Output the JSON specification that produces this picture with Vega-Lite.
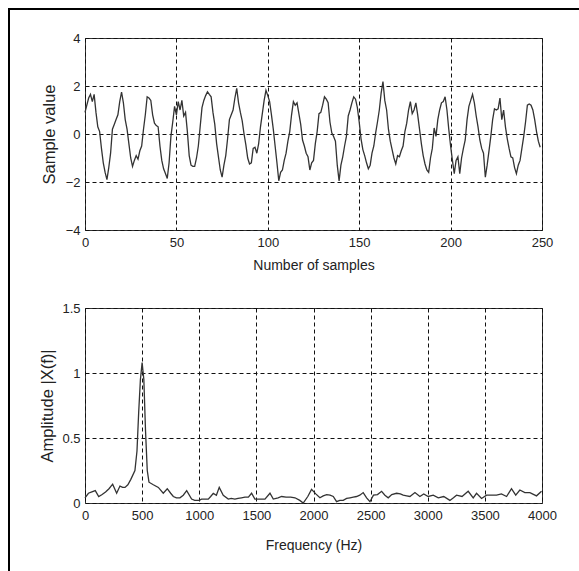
{
  "$schema": "https://vega.github.io/schema/vega-lite/v6.json",
  "padding": {"left": 8, "top": 8, "right": 0, "bottom": 0},
  "background": "white",
  "datasets": {
    "frame": [{"k": "frame"}],
    "signal": [
      {"n":0,"v":0.9},{"n":1,"v":1.2},{"n":2,"v":1.5},{"n":3,"v":1.65},{"n":4,"v":1.35},{"n":5,"v":1.65},{"n":6,"v":0.9},{"n":7,"v":0.3},{"n":8,"v":0.1},{"n":9,"v":-0.6},
      {"n":10,"v":-1.2},{"n":11,"v":-1.6},{"n":12,"v":-1.9},{"n":13,"v":-1.4},{"n":14,"v":-0.8},{"n":15,"v":0.2},{"n":16,"v":0.4},{"n":17,"v":0.6},{"n":18,"v":0.8},{"n":19,"v":1.35},
      {"n":20,"v":1.75},{"n":21,"v":1.3},{"n":22,"v":0.6},{"n":23,"v":0.2},{"n":24,"v":-0.4},{"n":25,"v":-1.0},{"n":26,"v":-1.35},{"n":27,"v":-1.1},{"n":28,"v":-0.9},{"n":29,"v":-1.05},
      {"n":30,"v":-0.7},{"n":31,"v":-0.5},{"n":32,"v":0.2},{"n":33,"v":0.8},{"n":34,"v":1.55},{"n":35,"v":1.5},{"n":36,"v":1.4},{"n":37,"v":0.8},{"n":38,"v":0.45},{"n":39,"v":0.35},
      {"n":40,"v":0.3},{"n":41,"v":-0.5},{"n":42,"v":-1.1},{"n":43,"v":-1.45},{"n":44,"v":-1.65},{"n":45,"v":-1.85},{"n":46,"v":-1.2},{"n":47,"v":-0.1},{"n":48,"v":0.5},{"n":49,"v":1.15},
      {"n":50,"v":0.8},{"n":51,"v":1.35},{"n":52,"v":1.0},{"n":53,"v":1.4},{"n":54,"v":0.75},{"n":55,"v":0.9},{"n":56,"v":0.1},{"n":57,"v":-0.9},{"n":58,"v":-1.3},{"n":59,"v":-1.35},
      {"n":60,"v":-1.35},{"n":61,"v":-1.0},{"n":62,"v":-0.5},{"n":63,"v":0.3},{"n":64,"v":1.1},{"n":65,"v":1.4},{"n":66,"v":1.6},{"n":67,"v":1.76},{"n":68,"v":1.65},{"n":69,"v":1.55},
      {"n":70,"v":0.9},{"n":71,"v":0.4},{"n":72,"v":-0.4},{"n":73,"v":-0.95},{"n":74,"v":-1.5},{"n":75,"v":-1.8},{"n":76,"v":-1.3},{"n":77,"v":-0.9},{"n":78,"v":-0.2},{"n":79,"v":0.6},
      {"n":80,"v":0.8},{"n":81,"v":1.0},{"n":82,"v":1.5},{"n":83,"v":1.9},{"n":84,"v":1.3},{"n":85,"v":0.9},{"n":86,"v":0.55},{"n":87,"v":0.0},{"n":88,"v":-0.45},{"n":89,"v":-1.0},
      {"n":90,"v":-1.25},{"n":91,"v":-1.2},{"n":92,"v":-0.6},{"n":93,"v":-0.55},{"n":94,"v":-0.8},{"n":95,"v":-0.4},{"n":96,"v":0.3},{"n":97,"v":0.85},{"n":98,"v":1.4},{"n":99,"v":1.82},
      {"n":100,"v":1.6},{"n":101,"v":1.35},{"n":102,"v":0.8},{"n":103,"v":0.2},{"n":104,"v":-0.5},{"n":105,"v":-1.2},{"n":106,"v":-1.95},{"n":107,"v":-1.6},{"n":108,"v":-1.5},{"n":109,"v":-1.1},
      {"n":110,"v":-0.8},{"n":111,"v":-0.3},{"n":112,"v":0.1},{"n":113,"v":0.8},{"n":114,"v":1.35},{"n":115,"v":1.2},{"n":116,"v":1.3},{"n":117,"v":0.85},{"n":118,"v":0.4},{"n":119,"v":-0.25},
      {"n":120,"v":-0.5},{"n":121,"v":-0.8},{"n":122,"v":-0.95},{"n":123,"v":-1.5},{"n":124,"v":-1.2},{"n":125,"v":-1.1},{"n":126,"v":-0.4},{"n":127,"v":0.1},{"n":128,"v":0.85},{"n":129,"v":0.9},
      {"n":130,"v":1.2},{"n":131,"v":1.55},{"n":132,"v":1.45},{"n":133,"v":1.3},{"n":134,"v":0.5},{"n":135,"v":0.05},{"n":136,"v":-0.1},{"n":137,"v":-0.3},{"n":138,"v":-1.3},{"n":139,"v":-1.95},
      {"n":140,"v":-1.3},{"n":141,"v":-0.95},{"n":142,"v":-0.5},{"n":143,"v":-0.1},{"n":144,"v":0.75},{"n":145,"v":1.0},{"n":146,"v":1.3},{"n":147,"v":1.55},{"n":148,"v":1.45},{"n":149,"v":1.1},
      {"n":150,"v":0.5},{"n":151,"v":-0.2},{"n":152,"v":-0.65},{"n":153,"v":-0.9},{"n":154,"v":-1.2},{"n":155,"v":-1.45},{"n":156,"v":-1.3},{"n":157,"v":-0.8},{"n":158,"v":-0.5},{"n":159,"v":0.05},
      {"n":160,"v":0.5},{"n":161,"v":1.0},{"n":162,"v":1.7},{"n":163,"v":2.18},{"n":164,"v":1.4},{"n":165,"v":1.0},{"n":166,"v":0.2},{"n":167,"v":-0.3},{"n":168,"v":-0.65},{"n":169,"v":-1.0},
      {"n":170,"v":-1.25},{"n":171,"v":-0.9},{"n":172,"v":-0.95},{"n":173,"v":-0.7},{"n":174,"v":-0.5},{"n":175,"v":0.1},{"n":176,"v":0.45},{"n":177,"v":1.0},{"n":178,"v":1.35},{"n":179,"v":0.85},
      {"n":180,"v":1.0},{"n":181,"v":1.3},{"n":182,"v":0.8},{"n":183,"v":0.2},{"n":184,"v":-0.4},{"n":185,"v":-0.9},{"n":186,"v":-1.25},{"n":187,"v":-1.5},{"n":188,"v":-1.6},{"n":189,"v":-1.0},
      {"n":190,"v":-0.6},{"n":191,"v":0.25},{"n":192,"v":-0.1},{"n":193,"v":0.6},{"n":194,"v":1.0},{"n":195,"v":1.3},{"n":196,"v":1.35},{"n":197,"v":1.55},{"n":198,"v":1.0},{"n":199,"v":0.2},
      {"n":200,"v":-0.5},{"n":201,"v":-1.1},{"n":202,"v":-1.65},{"n":203,"v":-1.1},{"n":204,"v":-0.95},{"n":205,"v":-1.65},{"n":206,"v":-1.0},{"n":207,"v":-0.6},{"n":208,"v":-0.25},{"n":209,"v":0.6},
      {"n":210,"v":1.15},{"n":211,"v":1.4},{"n":212,"v":1.65},{"n":213,"v":1.3},{"n":214,"v":0.75},{"n":215,"v":0.3},{"n":216,"v":-0.25},{"n":217,"v":-0.6},{"n":218,"v":-0.8},{"n":219,"v":-1.8},
      {"n":220,"v":-1.3},{"n":221,"v":-0.7},{"n":222,"v":-0.1},{"n":223,"v":0.6},{"n":224,"v":1.05},{"n":225,"v":1.0},{"n":226,"v":1.05},{"n":227,"v":1.5},{"n":228,"v":0.6},{"n":229,"v":1.0},
      {"n":230,"v":0.3},{"n":231,"v":-0.2},{"n":232,"v":-0.6},{"n":233,"v":-0.95},{"n":234,"v":-1.0},{"n":235,"v":-1.4},{"n":236,"v":-1.65},{"n":237,"v":-1.3},{"n":238,"v":-1.1},{"n":239,"v":-0.6},
      {"n":240,"v":-0.1},{"n":241,"v":0.5},{"n":242,"v":1.2},{"n":243,"v":1.25},{"n":244,"v":1.2},{"n":245,"v":1.0},{"n":246,"v":0.6},{"n":247,"v":0.1},{"n":248,"v":-0.3},{"n":249,"v":-0.55}
    ],
    "spectrum": [
      {"f":0,"a":0.04},{"f":30,"a":0.075},{"f":60,"a":0.085},{"f":90,"a":0.095},{"f":120,"a":0.05},{"f":150,"a":0.065},{"f":180,"a":0.085},{"f":210,"a":0.11},{"f":242,"a":0.145},{"f":277,"a":0.075},
      {"f":306,"a":0.13},{"f":330,"a":0.12},{"f":350,"a":0.12},{"f":375,"a":0.14},{"f":400,"a":0.18},{"f":437,"a":0.25},{"f":455,"a":0.4},{"f":470,"a":0.7},{"f":485,"a":0.95},{"f":500,"a":1.08},
      {"f":515,"a":0.95},{"f":530,"a":0.55},{"f":545,"a":0.25},{"f":560,"a":0.16},{"f":598,"a":0.14},{"f":642,"a":0.12},{"f":685,"a":0.075},{"f":720,"a":0.11},{"f":750,"a":0.075},{"f":773,"a":0.05},
      {"f":800,"a":0.04},{"f":831,"a":0.04},{"f":860,"a":0.06},{"f":890,"a":0.095},{"f":933,"a":0.03},{"f":960,"a":0.02},{"f":977,"a":0.02},{"f":1000,"a":0.02},{"f":1020,"a":0.03},{"f":1050,"a":0.03},
      {"f":1079,"a":0.03},{"f":1100,"a":0.05},{"f":1123,"a":0.074},{"f":1150,"a":0.06},{"f":1175,"a":0.12},{"f":1210,"a":0.06},{"f":1254,"a":0.03},{"f":1280,"a":0.035},{"f":1312,"a":0.03},{"f":1340,"a":0.035},
      {"f":1370,"a":0.04},{"f":1400,"a":0.045},{"f":1430,"a":0.045},{"f":1458,"a":0.075},{"f":1487,"a":0.03},{"f":1531,"a":0.03},{"f":1575,"a":0.03},{"f":1619,"a":0.075},{"f":1648,"a":0.03},{"f":1690,"a":0.04},
      {"f":1721,"a":0.05},{"f":1760,"a":0.045},{"f":1800,"a":0.045},{"f":1838,"a":0.04},{"f":1880,"a":0.02},{"f":1910,"a":0.0},{"f":1950,"a":0.05},{"f":1983,"a":0.105},{"f":2020,"a":0.07},{"f":2056,"a":0.04},
      {"f":2085,"a":0.055},{"f":2115,"a":0.065},{"f":2145,"a":0.06},{"f":2173,"a":0.05},{"f":2202,"a":0.01},{"f":2230,"a":0.02},{"f":2260,"a":0.02},{"f":2290,"a":0.035},{"f":2320,"a":0.04},{"f":2348,"a":0.045},
      {"f":2377,"a":0.05},{"f":2405,"a":0.06},{"f":2435,"a":0.08},{"f":2465,"a":0.04},{"f":2494,"a":0.01},{"f":2525,"a":0.06},{"f":2560,"a":0.065},{"f":2596,"a":0.09},{"f":2625,"a":0.06},{"f":2654,"a":0.04},
      {"f":2685,"a":0.065},{"f":2727,"a":0.075},{"f":2760,"a":0.07},{"f":2785,"a":0.06},{"f":2815,"a":0.055},{"f":2844,"a":0.05},{"f":2888,"a":0.08},{"f":2931,"a":0.05},{"f":2965,"a":0.07},{"f":3004,"a":0.05},
      {"f":3048,"a":0.06},{"f":3092,"a":0.04},{"f":3140,"a":0.05},{"f":3194,"a":0.02},{"f":3225,"a":0.04},{"f":3252,"a":0.06},{"f":3300,"a":0.05},{"f":3354,"a":0.09},{"f":3398,"a":0.04},{"f":3427,"a":0.075},
      {"f":3471,"a":0.035},{"f":3515,"a":0.06},{"f":3560,"a":0.06},{"f":3602,"a":0.06},{"f":3645,"a":0.07},{"f":3690,"a":0.05},{"f":3733,"a":0.11},{"f":3770,"a":0.06},{"f":3806,"a":0.1},{"f":3850,"a":0.08},
      {"f":3894,"a":0.08},{"f":3952,"a":0.055},{"f":3996,"a":0.09}
    ]
  },
  "config": {
    "view": {"stroke": "#333333", "strokeWidth": 1},
    "font": "Liberation Sans, Arial, sans-serif",
    "axis": {
      "grid": true,
      "gridDash": [4, 3],
      "gridColor": "#111111",
      "gridWidth": 1,
      "gridOpacity": 1,
      "domain": false,
      "ticks": false,
      "labelFont": "Liberation Sans, Arial, sans-serif",
      "titleFont": "Liberation Sans, Arial, sans-serif",
      "labelFontSize": 13,
      "titleFontSize": 14,
      "titleFontWeight": "normal",
      "labelColor": "#222222",
      "titleColor": "#222222",
      "labelPadding": 6,
      "labelFlush": false,
      "labelOverlap": false
    },
    "axisY": {"titleFontSize": 16.5, "labelPadding": 5}
  },
  "bounds": "flush",
  "spacing": 0,
  "vconcat": [
    {
      "data": {"name": "frame"},
      "width": 600,
      "height": 2,
      "view": {"stroke": null},
      "mark": {"type": "rect", "color": "black"},
      "encoding": {}
    },
    {
      "bounds": "flush",
      "spacing": 75,
      "hconcat": [
        {
          "data": {"name": "frame"},
          "width": 2,
          "height": 600,
          "view": {"stroke": null},
          "mark": {"type": "rect", "color": "black"},
          "encoding": {}
        },
        {
          "bounds": "flush",
          "spacing": 27,
          "vconcat": [
            {
              "data": {"name": "frame"},
              "width": 457,
              "height": 1,
              "view": {"stroke": null},
              "mark": {"type": "rect", "opacity": 0},
              "encoding": {}
            },
            {
              "bounds": "flush",
              "spacing": 78,
              "vconcat": [
                {
                  "data": {"name": "signal"},
                  "width": 457,
                  "height": 192,
                  "mark": {"type": "line", "color": "#333333", "strokeWidth": 1.3},
                  "encoding": {
                    "x": {"field": "n", "type": "quantitative", "scale": {"domain": [0, 250], "nice": false},
                          "axis": {"values": [0, 50, 100, 150, 200, 250], "title": "Number of samples", "titlePadding": 9}},
                    "y": {"field": "v", "type": "quantitative", "scale": {"domain": [-4, 4], "nice": false},
                          "axis": {"values": [-4, -2, 0, 2, 4], "title": "Sample value", "titlePadding": 8}}
                  }
                },
                {
                  "data": {"name": "spectrum"},
                  "width": 457,
                  "height": 195,
                  "mark": {"type": "line", "color": "#333333", "strokeWidth": 1.3},
                  "encoding": {
                    "x": {"field": "f", "type": "quantitative", "scale": {"domain": [0, 4000], "nice": false},
                          "axis": {"values": [0, 500, 1000, 1500, 2000, 2500, 3000, 3500, 4000], "format": "d", "title": "Frequency (Hz)", "titlePadding": 16}},
                    "y": {"field": "a", "type": "quantitative", "scale": {"domain": [0, 1.5], "nice": false},
                          "axis": {"values": [0, 0.5, 1, 1.5], "format": "~g", "title": "Amplitude |X(f)|", "titlePadding": 6}}
                  }
                }
              ]
            }
          ]
        }
      ]
    }
  ]
}
